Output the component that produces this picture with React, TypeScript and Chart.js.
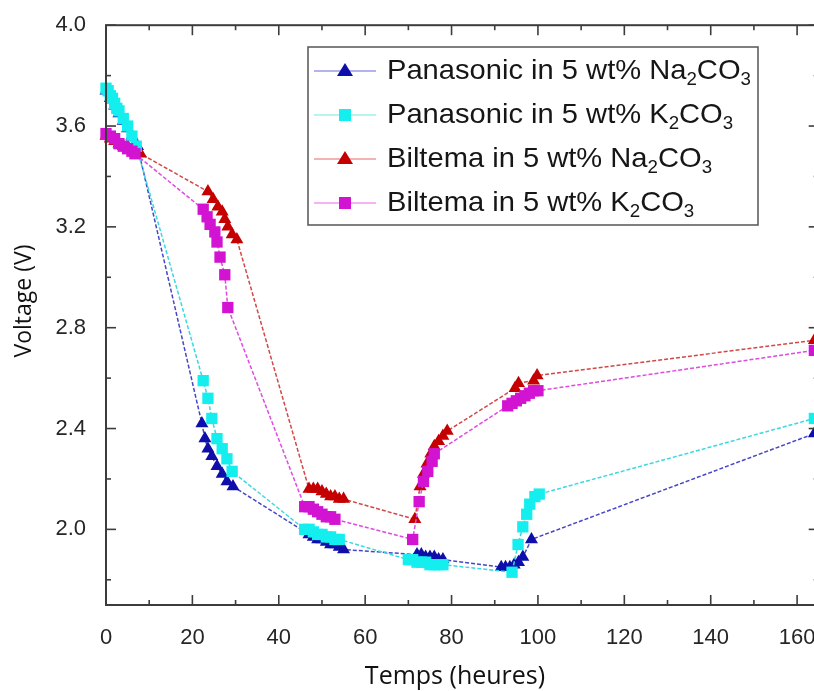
import React, { useEffect, useRef } from "react";
import { Chart, registerables } from "chart.js";

Chart.register(...registerables);

// ---- data ----
const panaNaHours = [0, 1, 2, 3, 4, 5, 6, 7.3, 22.2, 22.9, 23.6, 24.5, 25.7, 26.9, 28.0, 29.4, 47, 48, 49, 50, 51, 52, 53, 54, 55, 72, 73, 74, 75, 76, 77, 78, 91.5, 92.5, 93.5, 94.5, 95.5, 96.5, 98.5, 164];
const panaNaVolts = [3.74, 3.71, 3.68, 3.65, 3.62, 3.59, 3.56, 3.52, 2.42, 2.36, 2.32, 2.29, 2.25, 2.22, 2.19, 2.17, 1.98, 1.97, 1.96, 1.96, 1.95, 1.94, 1.94, 1.93, 1.92, 1.9, 1.9, 1.89, 1.89, 1.89, 1.88, 1.88, 1.85, 1.85, 1.85, 1.86, 1.87, 1.89, 1.96, 2.38];

const panaKHours = [0, 0.5, 1, 1.5, 2, 2.5, 3, 4, 5, 6, 7, 22.5, 23.6, 24.5, 25.7, 26.9, 28.0, 29.2, 46, 47, 48, 49, 50, 51, 52, 53, 54, 70, 71, 72, 73, 74, 75, 76, 77, 78, 94, 95.4, 96.5, 97.4, 98.1, 99.3, 100.3, 164];
const panaKVolts = [3.75, 3.74, 3.72, 3.71, 3.69, 3.67, 3.66, 3.63, 3.6, 3.56, 3.52, 2.59, 2.52, 2.44, 2.36, 2.32, 2.28, 2.23, 2.0, 2.0, 1.99, 1.98, 1.98, 1.97, 1.97, 1.96, 1.96, 1.88, 1.88, 1.87, 1.87, 1.87, 1.86, 1.86, 1.86, 1.86, 1.83, 1.94, 2.01, 2.06, 2.1, 2.13, 2.14, 2.44];

const biltNaHours = [0, 1, 2, 3, 4, 5, 6, 7, 8, 23.6, 24.8, 25.9, 26.9, 27.5, 28.2, 29.2, 30.3, 47, 48, 49, 50, 51, 52, 53, 54, 55, 71.5, 72.7, 73.5, 74.3, 75.2, 76, 77, 78, 79, 94.7, 95.5, 99, 99.8, 164];
const biltNaVolts = [3.56, 3.55, 3.54, 3.53, 3.52, 3.52, 3.51, 3.5, 3.49, 3.34, 3.31, 3.28, 3.26, 3.23, 3.2, 3.17, 3.15, 2.16, 2.16, 2.16, 2.15, 2.14, 2.13, 2.13, 2.12, 2.12, 2.04, 2.17, 2.22, 2.26, 2.3, 2.33, 2.35, 2.37, 2.39, 2.56, 2.58, 2.59, 2.61, 2.75];

const biltKHours = [0, 1, 2, 3, 4, 5, 6, 6.7, 22.5, 23.4, 24.1, 25.2, 25.7, 26.4, 27.5, 28.2, 46, 47, 48, 49, 50, 51, 52, 53, 71, 72.5, 73.5, 74.5, 75.5, 76, 93, 94, 95, 96, 97, 98, 99, 100, 164];
const biltKVolts = [3.57, 3.56, 3.55, 3.53, 3.52, 3.51, 3.5, 3.49, 3.27, 3.24, 3.21, 3.18, 3.14, 3.08, 3.01, 2.88, 2.09, 2.09, 2.08, 2.07, 2.06, 2.05, 2.05, 2.04, 1.96, 2.11, 2.19, 2.23, 2.27, 2.3, 2.49, 2.5, 2.51, 2.52, 2.53, 2.54, 2.55, 2.55, 2.71];

const seriesLabels = [
  "Panasonic in 5 wt% Na₂CO₃",
  "Panasonic in 5 wt% K₂CO₃",
  "Biltema in 5 wt% Na₂CO₃",
  "Biltema in 5 wt% K₂CO₃",
];

const xTicks = [0, 20, 40, 60, 80, 100, 120, 140, 160];
const yTicks = [2.0, 2.4, 2.8, 3.2, 3.6, 4.0];
const xTitle = "Temps (heures)";
const yTitle = "Voltage (V)";

// ---- styles ----
const markerColors = ["#0e0eaa", "#14eeee", "#c40000", "#d214d2"];
const lineColors = ["#4646c8", "#3ad8e0", "#d24848", "#e04ae0"];
const legendLineColors = ["#9a9ae8", "#9ef0f0", "#ec9a9a", "#f29af2"];
const markerStyles = ["triangle", "rect", "triangle", "rect"];
const drawOrder = [4, 2, 3, 1];

const W = 840;
const H = 691;
const AREA = { left: 106, top: 25, bottom: 605, right: 818.7 };
const SANS = '"Liberation Sans", Arial, sans-serif';

function zip(xs: number[], ys: number[]) {
  return xs.map((x, i) => ({ x, y: ys[i] }));
}

function drawMarker(ctx: CanvasRenderingContext2D, style: string, x: number, y: number, color: string) {
  ctx.fillStyle = color;
  ctx.beginPath();
  if (style === "triangle") {
    ctx.moveTo(x, y - 8);
    ctx.lineTo(x + 8, y + 5);
    ctx.lineTo(x - 8, y + 5);
    ctx.closePath();
  } else {
    ctx.rect(x - 6, y - 6, 12, 12);
  }
  ctx.fill();
}

function drawRichText(ctx: CanvasRenderingContext2D, text: string, x: number, y: number) {
  const subs = "₀₁₂₃₄₅₆₇₈₉";
  ctx.save();
  ctx.translate(x, y);
  ctx.scale(1.04, 1);
  let cx = 0;
  let buf = "";
  const flush = () => {
    if (!buf) return;
    ctx.font = `28px ${SANS}`;
    ctx.fillText(buf, cx, 0);
    cx += ctx.measureText(buf).width;
    buf = "";
  };
  for (const ch of text) {
    const idx = subs.indexOf(ch);
    if (idx >= 0) {
      flush();
      ctx.font = `18px ${SANS}`;
      const d = String(idx);
      ctx.fillText(d, cx, 9);
      cx += ctx.measureText(d).width;
    } else {
      buf += ch;
    }
  }
  flush();
  ctx.restore();
}

const framePlugin = {
  id: "frameAndLegend",
  afterDraw(chart: any) {
    const ctx: CanvasRenderingContext2D = chart.ctx;
    const { left, right, top, bottom } = chart.chartArea;
    const xs = chart.scales.x;
    const ys = chart.scales.y;
    ctx.save();
    ctx.strokeStyle = "#3c3c3c";
    ctx.lineWidth = 2;
    ctx.strokeRect(left, top, right - left, bottom - top);

    ctx.lineWidth = 1.6;
    const line = (x1: number, y1: number, x2: number, y2: number) => {
      ctx.beginPath();
      ctx.moveTo(x1, y1);
      ctx.lineTo(x2, y2);
      ctx.stroke();
    };
    const xStep = xTicks[1] - xTicks[0];
    xTicks.forEach((v) => {
      const px = xs.getPixelForValue(v);
      line(px, bottom, px, bottom - 10);
      line(px, top, px, top + 10);
      const m = xs.getPixelForValue(v + xStep / 2);
      if (m < right) {
        line(m, bottom, m, bottom - 5);
        line(m, top, m, top + 5);
      }
    });
    const yStep = yTicks[1] - yTicks[0];
    yTicks.forEach((v) => {
      const py = ys.getPixelForValue(v);
      line(left, py, left + 10, py);
      line(right, py, right - 10, py);
      const m = ys.getPixelForValue(v - yStep / 2);
      if (m < bottom) {
        line(left, m, left + 5, m);
        line(right, m, right - 5, m);
      }
    });

    // axis titles
    ctx.fillStyle = "#111";
    ctx.font = `25px "Open Sans", sans-serif`;
    ctx.textAlign = "center";
    ctx.textBaseline = "middle";
    ctx.fillText(xTitle, 455, 677);
    ctx.save();
    ctx.translate(24, 301);
    ctx.rotate(-Math.PI / 2);
    ctx.font = `23px "Open Sans", sans-serif`;
    ctx.fillText(yTitle, 0, 0);
    ctx.restore();

    // legend
    const bx = 308, by = 47, bw = 450, bh = 178;
    ctx.fillStyle = "#fff";
    ctx.fillRect(bx, by, bw, bh);
    ctx.strokeStyle = "#555";
    ctx.lineWidth = 1.5;
    ctx.strokeRect(bx, by, bw, bh);
    ctx.textAlign = "left";
    ctx.textBaseline = "middle";
    chart.data.datasets.forEach((ds: any, i: number) => {
      const cy = 71 + i * 44;
      ctx.strokeStyle = legendLineColors[i];
      ctx.lineWidth = 1.5;
      line(314, cy, 376, cy);
      drawMarker(ctx, markerStyles[i], 345, cy, markerColors[i]);
      ctx.fillStyle = "#161616";
      drawRichText(ctx, ds.label, 387, cy);
    });
    ctx.restore();
  },
};

export default function App() {
  const ref = useRef<HTMLCanvasElement | null>(null);
  useEffect(() => {
    if (!ref.current) return;
    const datasets = [
      zip(panaNaHours, panaNaVolts),
      zip(panaKHours, panaKVolts),
      zip(biltNaHours, biltNaVolts),
      zip(biltKHours, biltKVolts),
    ].map((data, i) => ({
      label: seriesLabels[i],
      data,
      order: drawOrder[i],
      borderColor: lineColors[i],
      borderWidth: 1.5,
      borderDash: [4, 2],
      backgroundColor: markerColors[i],
      pointBackgroundColor: markerColors[i],
      pointBorderColor: markerColors[i],
      pointBorderWidth: 0,
      pointStyle: markerStyles[i],
      pointRadius: markerStyles[i] === "triangle" ? 7.5 : 8,
      tension: 0,
      clip: false as any,
    }));
    const chart = new Chart(ref.current, {
      type: "line",
      data: { datasets: datasets as any },
      options: {
        animation: false,
        responsive: false,
        devicePixelRatio: 1,
        layout: { padding: { top: AREA.top, right: W - AREA.right, left: 0, bottom: 0 } },
        plugins: { legend: { display: false }, tooltip: { enabled: false } },
        scales: {
          x: {
            type: "linear",
            min: 0,
            max: 165,
            grid: { display: false },
            border: { display: false },
            afterFit: (s: any) => {
              s.height = H - AREA.bottom;
            },
            afterBuildTicks: (s: any) => {
              s.ticks = xTicks.map((v) => ({ value: v }));
            },
            ticks: {
              padding: 12,
              color: "#262626",
              font: { family: SANS, size: 22 },
              maxRotation: 0,
              callback: (v: any) => String(v),
            },
          },
          y: {
            type: "linear",
            min: 1.7,
            max: 4.0,
            grid: { display: false },
            border: { display: false },
            afterFit: (s: any) => {
              s.width = AREA.left;
            },
            afterBuildTicks: (s: any) => {
              s.ticks = yTicks.map((v) => ({ value: v }));
            },
            ticks: {
              padding: 12,
              color: "#262626",
              font: { family: SANS, size: 22 },
              callback: (v: any) => Number(v).toFixed(1),
            },
          },
        },
      },
      plugins: [framePlugin],
    });
    return () => chart.destroy();
  }, []);
  return (
    <div style={{ position: "absolute", left: 0, top: 0, width: 814, height: 691, overflow: "hidden", background: "#fff" }}>
      <canvas ref={ref} width={W} height={H} style={{ display: "block" }} />
    </div>
  );
}
